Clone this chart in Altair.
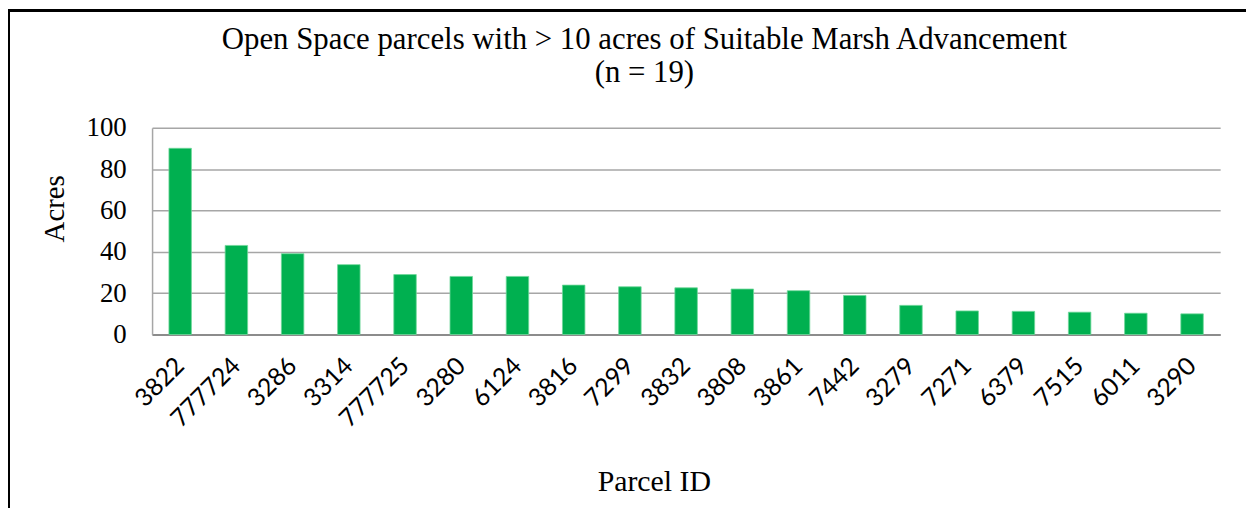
import altair as alt
import pandas as pd

parcels = ["3822", "777724", "3286", "3314", "777725", "3280", "6124", "3816", "7299",
           "3832", "3808", "3861", "7442", "3279", "7271", "6379", "7515", "6011", "3290"]
acres = [90.1, 43.1, 39.1, 33.8, 29.0, 28.1, 28.1, 23.9, 23.1,
         22.6, 22.0, 21.2, 18.9, 14.1, 11.4, 11.2, 10.8, 10.3, 10.0]
y_ticks = [0, 20, 40, 60, 80, 100]
title_lines = ["Open Space parcels with > 10 acres of Suitable Marsh Advancement", "(n = 19)"]

df = pd.DataFrame({"Parcel ID": parcels, "Acres": acres})

W, H = 1075, 208
SERIF = "Liberation Serif"

bars = alt.Chart(df).mark_bar(color="#00B050", stroke="#6fd89a", strokeWidth=0.8).encode(
    x=alt.X(
        "Parcel ID:N", sort=parcels,
        scale=alt.Scale(paddingInner=0.6, paddingOuter=0.3),
        axis=alt.Axis(
            labelAngle=-45, labelAlign="right", labelBaseline="middle",
            labelFont="Lato", labelFontSize=25, labelPadding=27, labelColor="black",
            ticks=False, domainColor="#8c8c8c", domainWidth=2, grid=False,
            title="Parcel ID", titleFont=SERIF, titleFontSize=30, titleFontWeight="normal",
            titleColor="black", titleX=505, titleY=157, titleBaseline="alphabetic",
            titleAlign="center",
        ),
    ),
    y=alt.Y(
        "Acres:Q",
        scale=alt.Scale(domain=[0, 100]),
        axis=alt.Axis(
            values=y_ticks, labelFont=SERIF, labelFontSize=27, labelPadding=26,
            labelColor="black", ticks=False, domainColor="#a6a6a6", domainWidth=1.5,
            gridColor="#a6a6a6", gridWidth=1.5,
            title="Acres", titleFont=SERIF, titleFontSize=29, titleFontWeight="normal",
            titleColor="black", titleX=-98, titleY=81, titleAlign="center",
            titleBaseline="middle", titleAngle=270,
        ),
    ),
)

frame_left = alt.Chart(df).mark_rule(color="black", strokeWidth=2).encode(
    x=alt.value(-144), y=alt.value(-118), y2=alt.value(H + 175)
)
frame_top = alt.Chart(df).mark_rule(color="black", strokeWidth=2).encode(
    x=alt.value(-145), x2=alt.value(W + 60), y=alt.value(-118)
)

chart = alt.layer(bars, frame_left, frame_top).properties(
    width=W, height=H,
    autosize=alt.AutoSizeParams(type="none"),
    padding={"left": 145, "top": 119, "right": 26, "bottom": 173},
    title=alt.TitleParams(
        title_lines, font=SERIF, fontSize=31, fontWeight="normal", color="black",
        anchor="middle", dx=-42, lineHeight=33, offset=-104, baseline="alphabetic",
    ),
).configure_view(stroke=None)

chart.save("out.html", embed_options={"renderer": "svg", "actions": False})
